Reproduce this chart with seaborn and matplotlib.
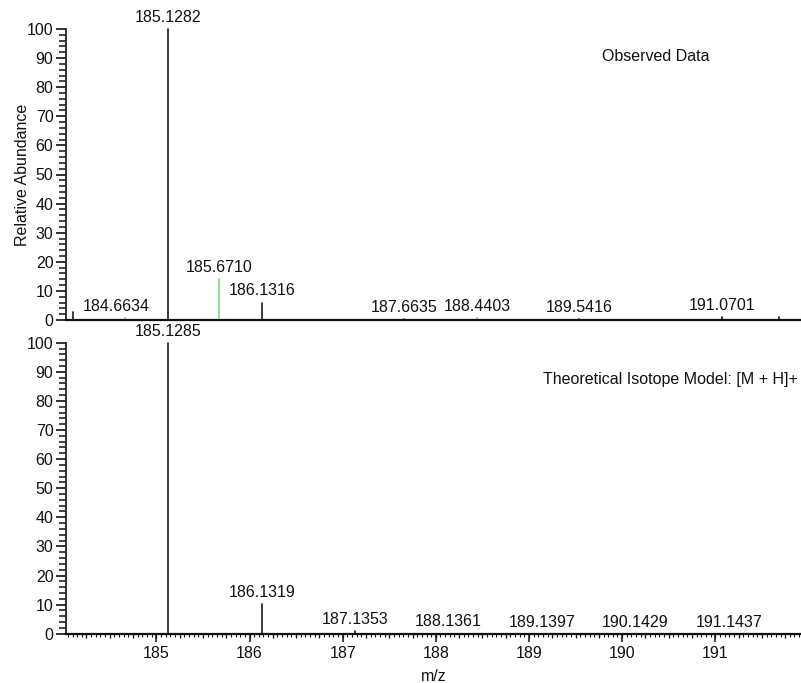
import matplotlib
matplotlib.use("Agg")
import matplotlib.pyplot as plt
import numpy as np
import pandas as pd
import seaborn as sns
from matplotlib.ticker import MultipleLocator, NullFormatter

# Observed spectrum: centroid m/z and relative abundance (%)
obs_mz = [184.104, 184.6634, 185.1282, 185.6710, 186.1316, 187.6635,
          188.4403, 189.5416, 191.0701, 191.680]
obs_rel = [2.9, 0.6, 100.0, 14.0, 6.0, 0.3, 0.6, 0.3, 1.0, 1.2]
obs_kind = ["main", "alt", "main", "alt", "main", "main",
            "alt", "main", "main", "main"]
obs_labels = [None, "184.6634", "185.1282", "185.6710", "186.1316",
              "187.6635", "188.4403", "189.5416", "191.0701", None]

# Theoretical isotope pattern for [M + H]+
th_mz = [185.1285, 186.1319, 187.1353, 188.1361, 189.1397, 190.1429, 191.1437]
th_rel = [100.0, 10.3, 0.9, 0.06, 0.01, 0.004, 0.001]
th_kind = ["main"] * len(th_mz)
th_labels = ["185.1285", "186.1319", "187.1353", "188.1361",
             "189.1397", "190.1429", "191.1437"]

y_ticks = list(range(0, 101, 10))
x_range = (184.03, 191.92)

PALETTE = {"main": "#1a1a1a", "alt": "#86d086"}
FS = 11.5

sns.set_theme(style="ticks")
plt.rcParams["font.family"] = ["Liberation Sans", "DejaVu Sans"]
plt.rcParams["font.size"] = FS
plt.rcParams["text.color"] = "#111111"
plt.rcParams["axes.labelcolor"] = "#111111"
plt.rcParams["xtick.color"] = "#111111"
plt.rcParams["ytick.color"] = "#111111"

W, H = 801, 683
fig = plt.figure(figsize=(W / 100, H / 100), dpi=100)
ax1 = fig.add_axes([66 / W, 1 - 320 / H, 735 / W, 291 / H])
ax2 = fig.add_axes([66 / W, 1 - 633.7 / H, 735 / W, 291 / H])


def stems(ax, mz, rel, kind, labels):
    rows = []
    for i, (m, r, k) in enumerate(zip(mz, rel, kind)):
        rows.append(dict(mz=m, rel=0.0, peak=i, kind=k))
        rows.append(dict(mz=m, rel=r, peak=i, kind=k))
    df = pd.DataFrame(rows)
    sns.lineplot(data=df, x="mz", y="rel", units="peak", estimator=None,
                 hue="kind", palette=PALETTE, legend=False, sort=False,
                 linewidth=1.2, ax=ax)
    for ln in ax.lines:
        ln.set_clip_on(False)
    for m, r, lab in zip(mz, rel, labels):
        if lab is None:
            continue
        dx = -6 if lab == "184.6634" else 0
        ax.annotate(lab, xy=(m, r), xytext=(dx, 3), textcoords="offset points",
                    ha="center", va="bottom", fontsize=FS, annotation_clip=False)


stems(ax1, obs_mz, obs_rel, obs_kind, obs_labels)
stems(ax2, th_mz, th_rel, th_kind, th_labels)

for ax in (ax1, ax2):
    ax.set_xlim(*x_range)
    ax.set_ylim(0, 100)
    ax.set_yticks(y_ticks)
    ax.yaxis.set_minor_locator(MultipleLocator(2))
    ax.tick_params(axis="y", which="major", length=7, width=1.2, pad=2, labelsize=FS)
    ax.tick_params(axis="y", which="minor", length=5, width=1.1)
    for s in ("top", "right"):
        ax.spines[s].set_visible(False)
    ax.spines["left"].set_linewidth(1.3)
    ax.spines["bottom"].set_linewidth(1.6)
    ax.spines["left"].set_color("#222222")
    ax.spines["bottom"].set_color("#111111")
    ax.set_facecolor("none")

ax1.tick_params(axis="x", which="both", bottom=False, labelbottom=False)
ax1.set_xlabel("")
ax1.set_ylabel("Relative Abundance", fontsize=FS)
ax1.yaxis.set_label_coords(-0.049, 0.5)

ax2.xaxis.set_major_locator(MultipleLocator(1))
ax2.xaxis.set_minor_locator(MultipleLocator(0.05))
ax2.tick_params(axis="x", which="major", length=5.5, width=1.1, pad=3, labelsize=FS)
ax2.tick_params(axis="x", which="minor", length=2, width=0.8)
ax2.set_ylabel("")
ax2.set_xlabel("m/z", fontsize=FS, labelpad=6)

# intermediate ticks every 0.25 m/z
sec = ax2.secondary_xaxis("bottom")
sec.xaxis.set_major_locator(MultipleLocator(0.25))
sec.xaxis.set_major_formatter(NullFormatter())
sec.tick_params(axis="x", which="major", length=3.2, width=0.9)
sec.spines["bottom"].set_visible(False)

ax1.text(0.876, 0.907, "Observed Data", transform=ax1.transAxes,
         ha="right", va="center", fontsize=FS)
ax2.text(0.996, 0.875, "Theoretical Isotope Model: [M + H]+", transform=ax2.transAxes,
         ha="right", va="center", fontsize=FS)

fig.savefig("out.png", dpi=100, facecolor="white")
